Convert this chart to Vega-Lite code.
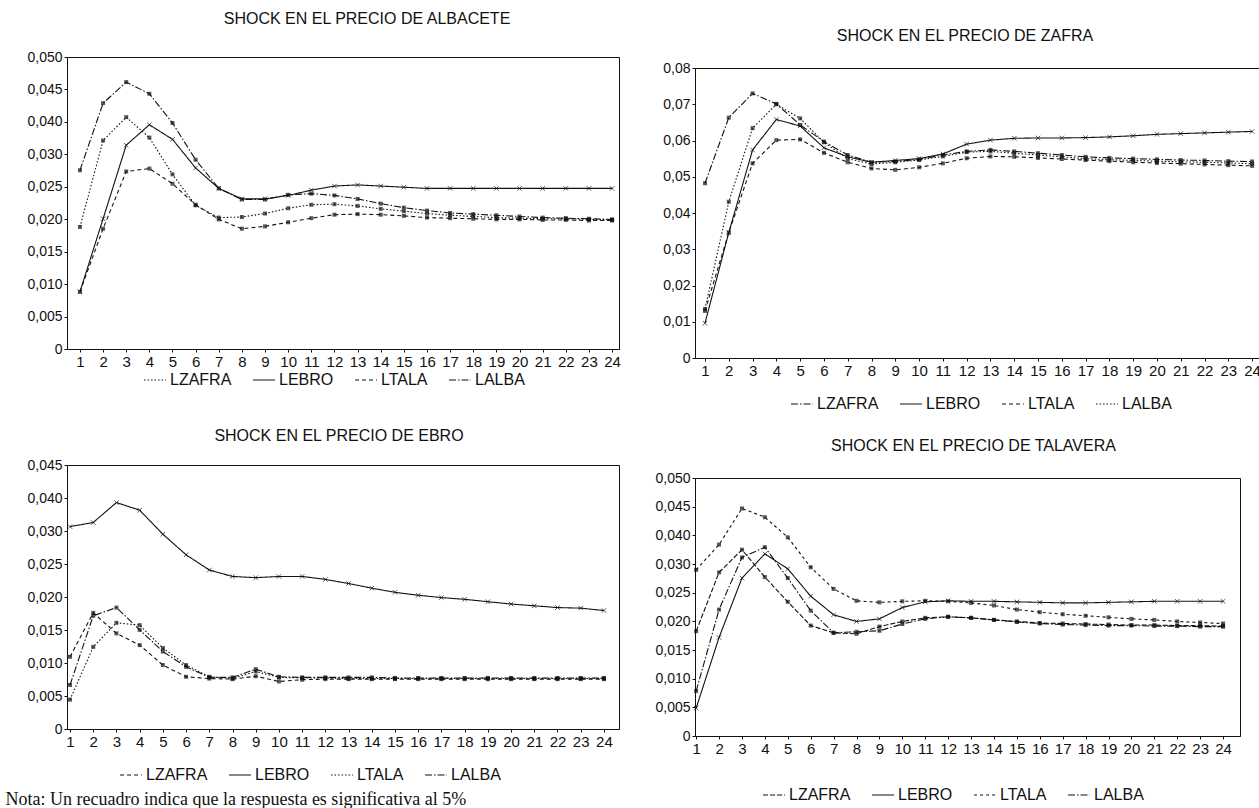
{
  "$schema": "https://vega.github.io/schema/vega-lite/v6.json",
  "background": "white",
  "padding": {"left": 4, "top": 10, "right": 0, "bottom": 0},
  "config": {
    "font": "Liberation Sans",
    "view": {"stroke": "#111", "strokeWidth": 1},
    "title": {"font": "Liberation Sans", "fontSize": 16, "fontWeight": "normal", "color": "#111", "anchor": "middle"},
    "axis": {"grid": false, "domainColor": "#111", "tickColor": "#111", "labelColor": "#111", "labelFont": "Liberation Sans", "tickSize": 3, "domainWidth": 1},
    "axisY": {"labelFontSize": 14, "labelPadding": 2},
    "axisX": {"labelFontSize": 15, "labelPadding": 2, "labelOverlap": false},
    "legend": {"labelFont": "Liberation Sans", "labelFontSize": 16, "labelColor": "#111", "symbolType": "stroke", "symbolStrokeColor": "#111", "symbolStrokeWidth": 1.2, "symbolSize": 480, "columnPadding": 18, "labelOffset": 3, "padding": 0}
  },
  "data": {"values": [
    {"shock":"ALBACETE","period":1,"LZAFRA":0.0209,"LEBRO":0.0098,"LTALA":0.0098,"LALBA":0.0306},
    {"shock":"ALBACETE","period":2,"LZAFRA":0.0357,"LEBRO":0.0223,"LTALA":0.0206,"LALBA":0.0421},
    {"shock":"ALBACETE","period":3,"LZAFRA":0.0397,"LEBRO":0.0349,"LTALA":0.0304,"LALBA":0.0457},
    {"shock":"ALBACETE","period":4,"LZAFRA":0.0362,"LEBRO":0.0384,"LTALA":0.0309,"LALBA":0.0437},
    {"shock":"ALBACETE","period":5,"LZAFRA":0.0299,"LEBRO":0.0359,"LTALA":0.0283,"LALBA":0.0387},
    {"shock":"ALBACETE","period":6,"LZAFRA":0.0246,"LEBRO":0.0310,"LTALA":0.0247,"LALBA":0.0324},
    {"shock":"ALBACETE","period":7,"LZAFRA":0.0225,"LEBRO":0.0275,"LTALA":0.0222,"LALBA":0.0275},
    {"shock":"ALBACETE","period":8,"LZAFRA":0.0226,"LEBRO":0.0257,"LTALA":0.0206,"LALBA":0.0256},
    {"shock":"ALBACETE","period":9,"LZAFRA":0.0232,"LEBRO":0.0257,"LTALA":0.0210,"LALBA":0.0256},
    {"shock":"ALBACETE","period":10,"LZAFRA":0.0241,"LEBRO":0.0263,"LTALA":0.0217,"LALBA":0.0264},
    {"shock":"ALBACETE","period":11,"LZAFRA":0.0247,"LEBRO":0.0272,"LTALA":0.0224,"LALBA":0.0266},
    {"shock":"ALBACETE","period":12,"LZAFRA":0.0248,"LEBRO":0.0279,"LTALA":0.0230,"LALBA":0.0263},
    {"shock":"ALBACETE","period":13,"LZAFRA":0.0245,"LEBRO":0.0281,"LTALA":0.0231,"LALBA":0.0257},
    {"shock":"ALBACETE","period":14,"LZAFRA":0.0240,"LEBRO":0.0279,"LTALA":0.0230,"LALBA":0.0249},
    {"shock":"ALBACETE","period":15,"LZAFRA":0.0236,"LEBRO":0.0277,"LTALA":0.0228,"LALBA":0.0242},
    {"shock":"ALBACETE","period":16,"LZAFRA":0.0232,"LEBRO":0.0275,"LTALA":0.0225,"LALBA":0.0237},
    {"shock":"ALBACETE","period":17,"LZAFRA":0.0229,"LEBRO":0.0275,"LTALA":0.0224,"LALBA":0.0233},
    {"shock":"ALBACETE","period":18,"LZAFRA":0.0227,"LEBRO":0.0275,"LTALA":0.0223,"LALBA":0.0231},
    {"shock":"ALBACETE","period":19,"LZAFRA":0.0225,"LEBRO":0.0275,"LTALA":0.0222,"LALBA":0.0229},
    {"shock":"ALBACETE","period":20,"LZAFRA":0.0224,"LEBRO":0.0275,"LTALA":0.0222,"LALBA":0.0227},
    {"shock":"ALBACETE","period":21,"LZAFRA":0.0223,"LEBRO":0.0275,"LTALA":0.0221,"LALBA":0.0225},
    {"shock":"ALBACETE","period":22,"LZAFRA":0.0223,"LEBRO":0.0275,"LTALA":0.0221,"LALBA":0.0224},
    {"shock":"ALBACETE","period":23,"LZAFRA":0.0222,"LEBRO":0.0275,"LTALA":0.0220,"LALBA":0.0223},
    {"shock":"ALBACETE","period":24,"LZAFRA":0.0221,"LEBRO":0.0275,"LTALA":0.0220,"LALBA":0.0222},
    {"shock":"ZAFRA","period":1,"LZAFRA":0.0482,"LEBRO":0.0096,"LTALA":0.0130,"LALBA":0.0135},
    {"shock":"ZAFRA","period":2,"LZAFRA":0.0663,"LEBRO":0.0346,"LTALA":0.0346,"LALBA":0.0431},
    {"shock":"ZAFRA","period":3,"LZAFRA":0.0730,"LEBRO":0.0574,"LTALA":0.0537,"LALBA":0.0634},
    {"shock":"ZAFRA","period":4,"LZAFRA":0.0701,"LEBRO":0.0658,"LTALA":0.0601,"LALBA":0.0700},
    {"shock":"ZAFRA","period":5,"LZAFRA":0.0643,"LEBRO":0.0640,"LTALA":0.0603,"LALBA":0.0661},
    {"shock":"ZAFRA","period":6,"LZAFRA":0.0597,"LEBRO":0.0580,"LTALA":0.0566,"LALBA":0.0595},
    {"shock":"ZAFRA","period":7,"LZAFRA":0.0560,"LEBRO":0.0555,"LTALA":0.0540,"LALBA":0.0550},
    {"shock":"ZAFRA","period":8,"LZAFRA":0.0540,"LEBRO":0.0540,"LTALA":0.0523,"LALBA":0.0535},
    {"shock":"ZAFRA","period":9,"LZAFRA":0.0542,"LEBRO":0.0545,"LTALA":0.0519,"LALBA":0.0540},
    {"shock":"ZAFRA","period":10,"LZAFRA":0.0548,"LEBRO":0.0550,"LTALA":0.0526,"LALBA":0.0546},
    {"shock":"ZAFRA","period":11,"LZAFRA":0.0560,"LEBRO":0.0563,"LTALA":0.0537,"LALBA":0.0556},
    {"shock":"ZAFRA","period":12,"LZAFRA":0.0570,"LEBRO":0.0590,"LTALA":0.0551,"LALBA":0.0568},
    {"shock":"ZAFRA","period":13,"LZAFRA":0.0574,"LEBRO":0.0601,"LTALA":0.0556,"LALBA":0.0570},
    {"shock":"ZAFRA","period":14,"LZAFRA":0.0570,"LEBRO":0.0606,"LTALA":0.0555,"LALBA":0.0565},
    {"shock":"ZAFRA","period":15,"LZAFRA":0.0565,"LEBRO":0.0607,"LTALA":0.0552,"LALBA":0.0560},
    {"shock":"ZAFRA","period":16,"LZAFRA":0.0560,"LEBRO":0.0607,"LTALA":0.0549,"LALBA":0.0555},
    {"shock":"ZAFRA","period":17,"LZAFRA":0.0555,"LEBRO":0.0608,"LTALA":0.0546,"LALBA":0.0550},
    {"shock":"ZAFRA","period":18,"LZAFRA":0.0552,"LEBRO":0.0610,"LTALA":0.0543,"LALBA":0.0547},
    {"shock":"ZAFRA","period":19,"LZAFRA":0.0550,"LEBRO":0.0613,"LTALA":0.0540,"LALBA":0.0545},
    {"shock":"ZAFRA","period":20,"LZAFRA":0.0548,"LEBRO":0.0617,"LTALA":0.0538,"LALBA":0.0543},
    {"shock":"ZAFRA","period":21,"LZAFRA":0.0546,"LEBRO":0.0619,"LTALA":0.0536,"LALBA":0.0541},
    {"shock":"ZAFRA","period":22,"LZAFRA":0.0545,"LEBRO":0.0621,"LTALA":0.0534,"LALBA":0.0540},
    {"shock":"ZAFRA","period":23,"LZAFRA":0.0543,"LEBRO":0.0623,"LTALA":0.0532,"LALBA":0.0538},
    {"shock":"ZAFRA","period":24,"LZAFRA":0.0542,"LEBRO":0.0625,"LTALA":0.0530,"LALBA":0.0536},
    {"shock":"EBRO","period":1,"LZAFRA":0.0123,"LEBRO":0.0345,"LTALA":0.0050,"LALBA":0.0075},
    {"shock":"EBRO","period":2,"LZAFRA":0.0198,"LEBRO":0.0352,"LTALA":0.0140,"LALBA":0.0193},
    {"shock":"EBRO","period":3,"LZAFRA":0.0163,"LEBRO":0.0386,"LTALA":0.0181,"LALBA":0.0207},
    {"shock":"EBRO","period":4,"LZAFRA":0.0143,"LEBRO":0.0373,"LTALA":0.0177,"LALBA":0.0169},
    {"shock":"EBRO","period":5,"LZAFRA":0.0109,"LEBRO":0.0332,"LTALA":0.0138,"LALBA":0.0132},
    {"shock":"EBRO","period":6,"LZAFRA":0.0089,"LEBRO":0.0297,"LTALA":0.0109,"LALBA":0.0106},
    {"shock":"EBRO","period":7,"LZAFRA":0.0086,"LEBRO":0.0271,"LTALA":0.0089,"LALBA":0.0088},
    {"shock":"EBRO","period":8,"LZAFRA":0.0085,"LEBRO":0.0260,"LTALA":0.0086,"LALBA":0.0088},
    {"shock":"EBRO","period":9,"LZAFRA":0.0090,"LEBRO":0.0258,"LTALA":0.0098,"LALBA":0.0102},
    {"shock":"EBRO","period":10,"LZAFRA":0.0081,"LEBRO":0.0260,"LTALA":0.0088,"LALBA":0.0089},
    {"shock":"EBRO","period":11,"LZAFRA":0.0084,"LEBRO":0.0260,"LTALA":0.0087,"LALBA":0.0088},
    {"shock":"EBRO","period":12,"LZAFRA":0.0085,"LEBRO":0.0255,"LTALA":0.0087,"LALBA":0.0088},
    {"shock":"EBRO","period":13,"LZAFRA":0.0085,"LEBRO":0.0248,"LTALA":0.0086,"LALBA":0.0088},
    {"shock":"EBRO","period":14,"LZAFRA":0.0085,"LEBRO":0.0240,"LTALA":0.0086,"LALBA":0.0088},
    {"shock":"EBRO","period":15,"LZAFRA":0.0085,"LEBRO":0.0233,"LTALA":0.0086,"LALBA":0.0087},
    {"shock":"EBRO","period":16,"LZAFRA":0.0085,"LEBRO":0.0228,"LTALA":0.0086,"LALBA":0.0087},
    {"shock":"EBRO","period":17,"LZAFRA":0.0085,"LEBRO":0.0224,"LTALA":0.0086,"LALBA":0.0087},
    {"shock":"EBRO","period":18,"LZAFRA":0.0085,"LEBRO":0.0221,"LTALA":0.0086,"LALBA":0.0087},
    {"shock":"EBRO","period":19,"LZAFRA":0.0085,"LEBRO":0.0217,"LTALA":0.0086,"LALBA":0.0087},
    {"shock":"EBRO","period":20,"LZAFRA":0.0085,"LEBRO":0.0213,"LTALA":0.0086,"LALBA":0.0087},
    {"shock":"EBRO","period":21,"LZAFRA":0.0085,"LEBRO":0.0210,"LTALA":0.0086,"LALBA":0.0087},
    {"shock":"EBRO","period":22,"LZAFRA":0.0085,"LEBRO":0.0207,"LTALA":0.0086,"LALBA":0.0087},
    {"shock":"EBRO","period":23,"LZAFRA":0.0085,"LEBRO":0.0206,"LTALA":0.0086,"LALBA":0.0087},
    {"shock":"EBRO","period":24,"LZAFRA":0.0085,"LEBRO":0.0202,"LTALA":0.0086,"LALBA":0.0087},
    {"shock":"TALAVERA","period":1,"LZAFRA":0.0203,"LEBRO":0.0054,"LTALA":0.0322,"LALBA":0.0087},
    {"shock":"TALAVERA","period":2,"LZAFRA":0.0317,"LEBRO":0.0191,"LTALA":0.0371,"LALBA":0.0245},
    {"shock":"TALAVERA","period":3,"LZAFRA":0.0361,"LEBRO":0.0306,"LTALA":0.0441,"LALBA":0.0346},
    {"shock":"TALAVERA","period":4,"LZAFRA":0.0308,"LEBRO":0.0353,"LTALA":0.0424,"LALBA":0.0366},
    {"shock":"TALAVERA","period":5,"LZAFRA":0.0260,"LEBRO":0.0324,"LTALA":0.0385,"LALBA":0.0306},
    {"shock":"TALAVERA","period":6,"LZAFRA":0.0214,"LEBRO":0.0271,"LTALA":0.0327,"LALBA":0.0243},
    {"shock":"TALAVERA","period":7,"LZAFRA":0.0200,"LEBRO":0.0235,"LTALA":0.0285,"LALBA":0.0200},
    {"shock":"TALAVERA","period":8,"LZAFRA":0.0198,"LEBRO":0.0222,"LTALA":0.0262,"LALBA":0.0202},
    {"shock":"TALAVERA","period":9,"LZAFRA":0.0212,"LEBRO":0.0227,"LTALA":0.0259,"LALBA":0.0204},
    {"shock":"TALAVERA","period":10,"LZAFRA":0.0222,"LEBRO":0.0249,"LTALA":0.0261,"LALBA":0.0217},
    {"shock":"TALAVERA","period":11,"LZAFRA":0.0229,"LEBRO":0.0260,"LTALA":0.0262,"LALBA":0.0227},
    {"shock":"TALAVERA","period":12,"LZAFRA":0.0231,"LEBRO":0.0262,"LTALA":0.0261,"LALBA":0.0231},
    {"shock":"TALAVERA","period":13,"LZAFRA":0.0229,"LEBRO":0.0261,"LTALA":0.0258,"LALBA":0.0229},
    {"shock":"TALAVERA","period":14,"LZAFRA":0.0225,"LEBRO":0.0261,"LTALA":0.0253,"LALBA":0.0225},
    {"shock":"TALAVERA","period":15,"LZAFRA":0.0222,"LEBRO":0.0260,"LTALA":0.0245,"LALBA":0.0221},
    {"shock":"TALAVERA","period":16,"LZAFRA":0.0219,"LEBRO":0.0259,"LTALA":0.0240,"LALBA":0.0218},
    {"shock":"TALAVERA","period":17,"LZAFRA":0.0218,"LEBRO":0.0258,"LTALA":0.0236,"LALBA":0.0216},
    {"shock":"TALAVERA","period":18,"LZAFRA":0.0217,"LEBRO":0.0258,"LTALA":0.0233,"LALBA":0.0215},
    {"shock":"TALAVERA","period":19,"LZAFRA":0.0216,"LEBRO":0.0259,"LTALA":0.0230,"LALBA":0.0214},
    {"shock":"TALAVERA","period":20,"LZAFRA":0.0215,"LEBRO":0.0260,"LTALA":0.0227,"LALBA":0.0214},
    {"shock":"TALAVERA","period":21,"LZAFRA":0.0215,"LEBRO":0.0261,"LTALA":0.0225,"LALBA":0.0213},
    {"shock":"TALAVERA","period":22,"LZAFRA":0.0214,"LEBRO":0.0261,"LTALA":0.0222,"LALBA":0.0213},
    {"shock":"TALAVERA","period":23,"LZAFRA":0.0214,"LEBRO":0.0261,"LTALA":0.0220,"LALBA":0.0212},
    {"shock":"TALAVERA","period":24,"LZAFRA":0.0213,"LEBRO":0.0261,"LTALA":0.0218,"LALBA":0.0212}
  ]},
  "spacing": 33,
  "resolve": {"scale": {"x": "independent", "y": "independent", "strokeDash": "independent"}, "legend": {"strokeDash": "independent"}},
  "hconcat": [
    {
      "spacing": 38,
      "resolve": {"scale": {"x": "independent", "y": "independent", "strokeDash": "independent"}, "legend": {"strokeDash": "independent"}},
      "vconcat": [
        {
          "title": {"text": "SHOCK EN EL PRECIO DE ALBACETE", "offset": 23, "dx": 24},
          "width": 552, "height": 292,
          "transform": [{"filter": "datum.shock == 'ALBACETE'"}, {"fold": ["LZAFRA", "LEBRO", "LTALA", "LALBA"], "as": ["series", "value"]}],
          "encoding": {
            "x": {"field": "period", "type": "quantitative", "title": null, "scale": {"domain": [0.44, 24.3], "nice": false, "zero": false}, "axis": {"values": [1,2,3,4,5,6,7,8,9,10,11,12,13,14,15,16,17,18,19,20,21,22,23,24], "format": "d"}},
            "y": {"field": "value", "type": "quantitative", "title": null, "scale": {"domain": [0, 0.05], "nice": false}, "axis": {"values": [0, 0.00555556, 0.01111111, 0.01666667, 0.02222222, 0.02777778, 0.03333333, 0.03888889, 0.04444444, 0.05], "labelExpr": "['0','0,005','0,010','0,015','0,020','0,025','0,030','0,040','0,045','0,050'][round(datum.value*180)]"}}
          },
          "layer": [
            {"mark": {"type": "line", "color": "#111", "strokeWidth": 1.1},
             "encoding": {"strokeDash": {"field": "series", "type": "nominal", "scale": {"domain": ["LZAFRA", "LEBRO", "LTALA", "LALBA"], "range": [[1.5, 2], [1, 0], [4, 3], [7, 2, 1.5, 2]]}, "legend": {"orient": "none", "direction": "horizontal", "legendX": 76, "legendY": 311, "title": null}}}},
            {"transform": [{"filter": "datum.series != 'LEBRO'"}], "mark": {"type": "point", "shape": "square", "filled": true, "color": "#111", "size": 16}},
            {"transform": [{"filter": "datum.series == 'LEBRO'"}], "mark": {"type": "point", "shape": "M-1,-1L1,1M1,-1L-1,1", "filled": false, "color": "#111", "strokeWidth": 1, "size": 20}}
          ]
        },
        {
          "title": {"text": "SHOCK EN EL PRECIO DE EBRO", "offset": 14, "dx": -4},
          "width": 552, "height": 264,
          "transform": [{"filter": "datum.shock == 'EBRO'"}, {"fold": ["LZAFRA", "LEBRO", "LTALA", "LALBA"], "as": ["series", "value"]}],
          "encoding": {
            "x": {"field": "period", "type": "quantitative", "title": "Nota: Un recuadro indica que la respuesta es significativa al 5%", "scale": {"domain": [0.87, 24.65], "nice": false, "zero": false}, "axis": {"values": [1,2,3,4,5,6,7,8,9,10,11,12,13,14,15,16,17,18,19,20,21,22,23,24], "format": "d", "titleFont": "Liberation Serif", "titleFontSize": 18, "titleFontWeight": "normal", "titleColor": "#111", "titleAnchor": "start", "titleAlign": "left", "titleBaseline": "middle", "titleX": -62, "titleY": 70}},
            "y": {"field": "value", "type": "quantitative", "title": null, "scale": {"domain": [0, 0.045], "nice": false}, "axis": {"values": [0, 0.005625, 0.01125, 0.016875, 0.0225, 0.028125, 0.03375, 0.039375, 0.045], "labelExpr": "['0','0,005','0,010','0,015','0,020','0,025','0,030','0,040','0,045'][round(datum.value/0.005625)]"}}
          },
          "layer": [
            {"mark": {"type": "line", "color": "#111", "strokeWidth": 1.1},
             "encoding": {"strokeDash": {"field": "series", "type": "nominal", "scale": {"domain": ["LZAFRA", "LEBRO", "LTALA", "LALBA"], "range": [[4, 3], [1, 0], [1.5, 2], [7, 2, 1.5, 2]]}, "legend": {"orient": "none", "direction": "horizontal", "legendX": 52, "legendY": 298, "title": null}}}},
            {"transform": [{"filter": "datum.series != 'LEBRO'"}], "mark": {"type": "point", "shape": "square", "filled": true, "color": "#111", "size": 16}},
            {"transform": [{"filter": "datum.series == 'LEBRO'"}], "mark": {"type": "point", "shape": "M-1,-1L1,1M1,-1L-1,1", "filled": false, "color": "#111", "strokeWidth": 1, "size": 20}}
          ]
        }
      ]
    },
    {
      "spacing": 2,
      "resolve": {"scale": {"x": "independent", "y": "independent", "strokeDash": "independent"}, "legend": {"strokeDash": "independent"}},
      "vconcat": [
        {
          "title": {"text": "SHOCK EN EL PRECIO DE ZAFRA", "offset": 13, "dx": -12},
          "width": 564, "height": 1,
          "view": {"stroke": null},
          "data": {"values": []},
          "mark": "point"
        },
        {
          "width": 564, "height": 290,
          "transform": [{"filter": "datum.shock == 'ZAFRA'"}, {"fold": ["LZAFRA", "LEBRO", "LTALA", "LALBA"], "as": ["series", "value"]}],
          "encoding": {
            "x": {"field": "period", "type": "quantitative", "title": null, "scale": {"domain": [0.58, 24.29], "nice": false, "zero": false}, "axis": {"values": [1,2,3,4,5,6,7,8,9,10,11,12,13,14,15,16,17,18,19,20,21,22,23,24], "format": "d"}},
            "y": {"field": "value", "type": "quantitative", "title": null, "scale": {"domain": [0, 0.08], "nice": false}, "axis": {"values": [0, 0.01, 0.02, 0.03, 0.04, 0.05, 0.06, 0.07, 0.08], "labelExpr": "datum.value == 0 ? '0' : replace(format(datum.value, '.2f'), '.', ',')"}}
          },
          "layer": [
            {"mark": {"type": "line", "color": "#111", "strokeWidth": 1.1},
             "encoding": {"strokeDash": {"field": "series", "type": "nominal", "scale": {"domain": ["LZAFRA", "LEBRO", "LTALA", "LALBA"], "range": [[7, 2, 1.5, 2], [1, 0], [4, 3], [1.5, 2]]}, "legend": {"orient": "none", "direction": "horizontal", "legendX": 95, "legendY": 324, "title": null}}}},
            {"transform": [{"filter": "datum.series != 'LEBRO'"}], "mark": {"type": "point", "shape": "square", "filled": true, "color": "#111", "size": 16}},
            {"transform": [{"filter": "datum.series == 'LEBRO'"}], "mark": {"type": "point", "shape": "M-1,-1L1,1M1,-1L-1,1", "filled": false, "color": "#111", "strokeWidth": 1, "size": 20}}
          ]
        },
        {
          "title": {"text": ["", "SHOCK EN EL PRECIO DE TALAVERA"], "lineHeight": 22, "offset": 17, "dx": 6},
          "width": 545, "height": 258,
          "transform": [{"filter": "datum.shock == 'TALAVERA'"}, {"fold": ["LZAFRA", "LEBRO", "LTALA", "LALBA"], "as": ["series", "value"]}],
          "encoding": {
            "x": {"field": "period", "type": "quantitative", "title": null, "scale": {"domain": [0.95, 24.74], "nice": false, "zero": false}, "axis": {"values": [1,2,3,4,5,6,7,8,9,10,11,12,13,14,15,16,17,18,19,20,21,22,23,24], "format": "d"}},
            "y": {"field": "value", "type": "quantitative", "title": null, "scale": {"domain": [0, 0.05], "nice": false}, "axis": {"values": [0, 0.00555556, 0.01111111, 0.01666667, 0.02222222, 0.02777778, 0.03333333, 0.03888889, 0.04444444, 0.05], "labelExpr": "['0','0,005','0,010','0,015','0,020','0,025','0,030','0,040','0,045','0,050'][round(datum.value*180)]"}}
          },
          "layer": [
            {"mark": {"type": "line", "color": "#111", "strokeWidth": 1.1},
             "encoding": {"strokeDash": {"field": "series", "type": "nominal", "scale": {"domain": ["LZAFRA", "LEBRO", "LTALA", "LALBA"], "range": [[5, 2], [1, 0], [3, 3], [7, 2, 1.5, 2]]}, "legend": {"orient": "none", "direction": "horizontal", "legendX": 67, "legendY": 305, "title": null}}}},
            {"transform": [{"filter": "datum.series != 'LEBRO'"}], "mark": {"type": "point", "shape": "square", "filled": true, "color": "#111", "size": 16}},
            {"transform": [{"filter": "datum.series == 'LEBRO'"}], "mark": {"type": "point", "shape": "M-1,-1L1,1M1,-1L-1,1", "filled": false, "color": "#111", "strokeWidth": 1, "size": 20}}
          ]
        }
      ]
    }
  ]
}
